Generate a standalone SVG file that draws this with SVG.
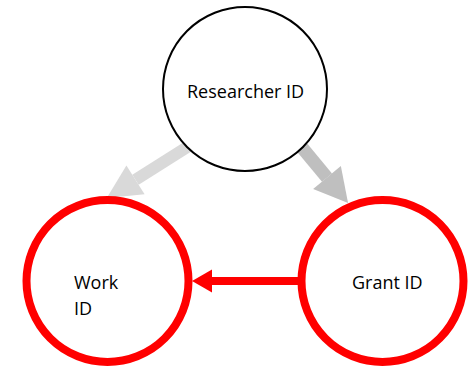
<svg xmlns="http://www.w3.org/2000/svg" width="470" height="367" viewBox="0 0 470 367">
<style>
.lbl{font-family:"Open Sans","Liberation Sans",sans-serif;font-size:18px;fill:#000}
.red{fill:#fff;stroke:#ff0000;stroke-width:8}
</style>
<defs>
<marker id="hg1" markerUnits="userSpaceOnUse" orient="auto" refX="0" refY="0" markerWidth="40" markerHeight="40" viewBox="0 -20 40 40" overflow="visible"><path d="M0,-17 L34,0 L0,17 z" fill="#d9d9d9"/></marker>
<marker id="hg2" markerUnits="userSpaceOnUse" orient="auto" refX="0" refY="0" markerWidth="40" markerHeight="40" viewBox="0 -20 40 40" overflow="visible"><path d="M0,-18 L33,0 L0,18 z" fill="#bfbfbf"/></marker>
<marker id="hr" markerUnits="userSpaceOnUse" orient="auto" refX="0" refY="0" markerWidth="30" markerHeight="30" viewBox="0 -15 30 30" overflow="visible"><path d="M0,-11.5 L20,0 L0,11.5 z" fill="#ff0000"/></marker>
</defs>
<g id="connectors">
<line x1="200" y1="139" x2="135.5" y2="179.8" stroke="#d9d9d9" stroke-width="12" marker-end="url(#hg1)"/>
<line x1="290" y1="133" x2="327" y2="177.6" stroke="#bfbfbf" stroke-width="13" marker-end="url(#hg2)"/>
<line x1="300" y1="281" x2="212" y2="281" stroke="#ff0000" stroke-width="8" marker-end="url(#hr)"/>
</g>
<g id="researcher">
<circle cx="245" cy="89" r="82" fill="#fff" stroke="#000" stroke-width="2"/>
<text class="lbl" x="187" y="98">Researcher ID</text>
</g>
<g id="work">
<circle class="red" cx="107.5" cy="281" r="81"/>
<text class="lbl" x="74" y="289">Work</text>
<text class="lbl" x="74" y="315">ID</text>
</g>
<g id="grant">
<circle class="red" cx="382.5" cy="281" r="81"/>
<text class="lbl" x="352" y="289">Grant ID</text>
</g>
</svg>
